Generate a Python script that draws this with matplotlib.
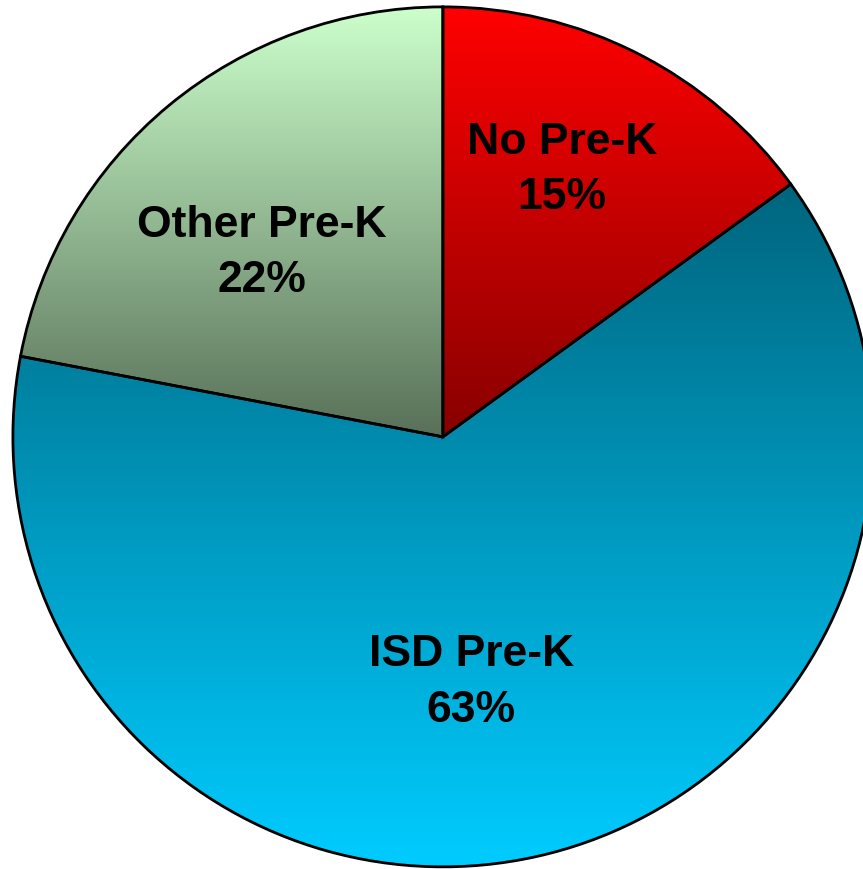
import numpy as np
import matplotlib
matplotlib.use('Agg')
import matplotlib.pyplot as plt
from matplotlib.colors import LinearSegmentedColormap

# data
labels = ['No Pre-K', 'ISD Pre-K', 'Other Pre-K']
shares = [15, 63, 22]
# top / bottom colours of each slice's vertical gradient
top_colors = ['#ff0000', '#00657e', '#ccffcc']
bottom_colors = ['#880000', '#00ccff', '#587058']
# radial distance of each label (fraction of radius) and small angle nudge (deg)
label_dist = [0.68, 0.575, 0.60]
label_nudge = [3, -6, 5]

plt.rcParams['font.family'] = ['Liberation Sans', 'DejaVu Sans']

fig = plt.figure(figsize=(8.63, 8.69), dpi=100)
ax = fig.add_axes([0, 0, 1, 1])

wedges, _ = ax.pie(shares, startangle=90, counterclock=False, radius=1,
                   wedgeprops=dict(edgecolor='black', linewidth=2.0))

for w, top, bot in zip(wedges, top_colors, bottom_colors):
    w.set_facecolor('none')
    w.set_zorder(3)
    ext = w.get_path().get_extents()
    cmap = LinearSegmentedColormap.from_list('g', [bot, top])
    grad = np.linspace(0, 1, 256).reshape(-1, 1)
    im = ax.imshow(grad, cmap=cmap, origin='lower', aspect='auto',
                   extent=[ext.x0, ext.x1, ext.y0, ext.y1], zorder=2,
                   interpolation='bilinear')
    im.set_clip_path(w)

for w, lab, pct, d, nud in zip(wedges, labels, shares, label_dist, label_nudge):
    ang = np.deg2rad((w.theta1 + w.theta2) / 2 + nud)
    ax.text(d * np.cos(ang), d * np.sin(ang), f'{lab}\n{pct}%',
            ha='center', va='center', fontsize=32, fontweight='bold',
            linespacing=1.45, zorder=4)

ax.set_xlim(-1.030, 0.977)
ax.set_ylim(-1.005, 1.016)
ax.set_aspect('auto')
ax.axis('off')

fig.savefig('out.png', dpi=100)
